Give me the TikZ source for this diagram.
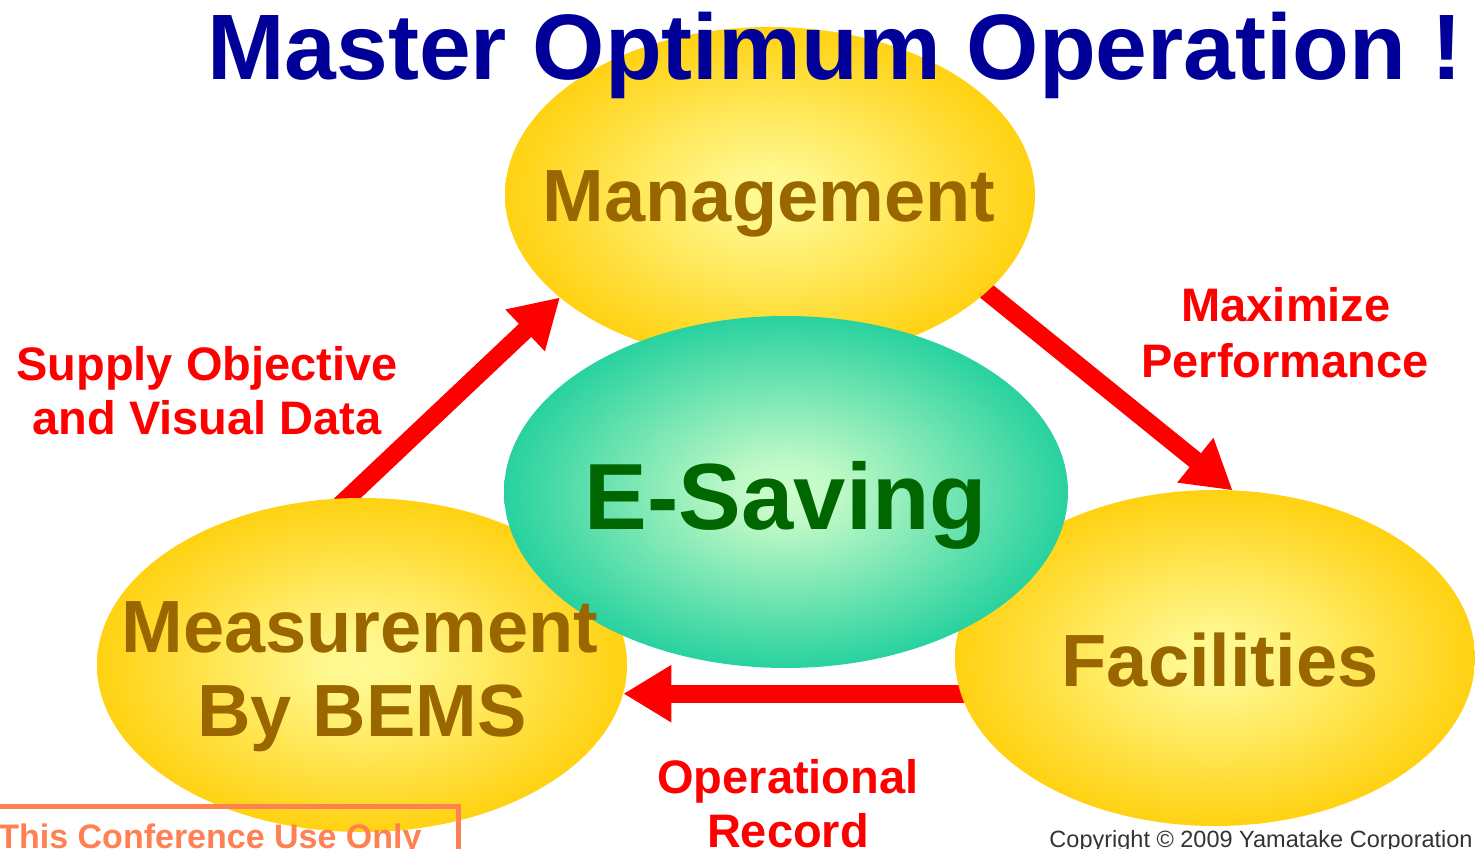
\documentclass[tikz,border=0pt]{standalone}
\usepackage{fontspec}
\setmainfont{Liberation Sans}
\usetikzlibrary{shapes.geometric,arrows.meta,calc}
\pgfdeclarelayer{background}
\pgfsetlayers{background,main}
\pgfdeclareradialshading{ylwshade}{\pgfpoint{0bp}{0bp}}{rgb(0bp)=(1,0.98,0.58); rgb(4bp)=(1,0.97,0.55); rgb(28bp)=(1,0.80,0.0); rgb(50bp)=(1,0.8,0)}
\pgfdeclareradialshading{grnshade}{\pgfpoint{0bp}{0bp}}{rgb(0bp)=(0.80,1,0.80); rgb(4bp)=(0.76,0.98,0.78); rgb(28bp)=(0.07,0.80,0.60); rgb(50bp)=(0.07,0.80,0.60)}
\definecolor{ttlblue}{RGB}{0,0,153}
\definecolor{brn}{RGB}{153,102,0}
\definecolor{dgreen}{RGB}{0,102,0}
\definecolor{arrred}{RGB}{255,0,0}
\definecolor{orng}{RGB}{255,128,80}
\definecolor{cpgray}{RGB}{51,51,51}
\begin{document}
\begin{tikzpicture}[x=0.5pt,y=-0.5pt,
  yell/.style={ellipse, inner sep=0pt, outer sep=0pt, shade, shading=ylwshade},
  grn/.style={ellipse, inner sep=0pt, outer sep=0pt, shade, shading=grnshade},
  ylabel/.style={font=\bfseries\fontsize{37pt}{42pt}\selectfont, text=brn, anchor=base, inner sep=0pt},
  rlabel/.style={font=\bfseries\fontsize{23.5pt}{28pt}\selectfont, text=arrred, anchor=base, inner sep=0pt},
  bigarrow/.style={draw=arrred, line width=9pt, -{Triangle[length=24pt,width=27pt]}}]
\useasboundingbox (0,0) rectangle (1475,849);
\clip (0,0) rectangle (1475,849);
% ellipses
\node[yell, minimum width=265pt, minimum height=168pt] (mgmt) at (770,195) {};
\node[yell, minimum width=265pt, minimum height=167pt] (meas) at (362,665) {};
\node[yell, minimum width=260pt, minimum height=168pt] (fac) at (1215,658) {};
\node[grn, minimum width=282pt, minimum height=176pt] (esave) at (786,492) {};
% arrows
\begin{pgfonlayer}{background}
\draw[bigarrow] ($(meas.95)!-15pt!(mgmt.206)$) -- (mgmt.206);
\draw[bigarrow] ($(mgmt.-24)!-15pt!(fac.84)$) -- (fac.84);
\draw[bigarrow] ($(fac.188)+(15,0)$) -- (meas.-6 |- fac.188);
\end{pgfonlayer}
% texts
\node[ylabel] (mgmtT) at (769,222) {Management};
\node[ylabel] (measA) at (360,652) {Measurement};
\node[ylabel] (measB) at (362,736) {By BEMS};
\node[ylabel] (facT) at (1220,686) {Facilities};
\node[font=\bfseries\fontsize{47pt}{52pt}\selectfont, text=dgreen, anchor=base, inner sep=0pt] (esT) at (786,529) {E-Saving};
\node[font=\bfseries\fontsize{46.5pt}{50pt}\selectfont, text=ttlblue, anchor=base, inner sep=0pt] (ttl) at (835,80) {Master Optimum Operation !};
\node[rlabel] (sup1) at (207,380) {Supply Objective};
\node[rlabel] (sup2) at (207,435) {and Visual Data};
\node[rlabel] (max1) at (1286,322) {Maximize};
\node[rlabel] (max2) at (1285,378) {Performance};
\node[rlabel] (op1) at (788,793) {Operational};
\node[rlabel] (op2) at (788,847) {Record};
% bottom box
\draw[orng, line width=2.5pt] (-20,806) -- (458,806) -- (458,870);
\node[font=\bfseries\fontsize{17pt}{20pt}\selectfont, text=orng, anchor=base east, inner sep=0pt] (conf) at (422,848) {This Conference Use Only};
\node[font=\fontsize{11.75pt}{14pt}\selectfont, text=cpgray, anchor=base east, inner sep=0pt] (copy) at (1473,847) {Copyright © 2009 Yamatake Corporation};
\end{tikzpicture}
\end{document}
